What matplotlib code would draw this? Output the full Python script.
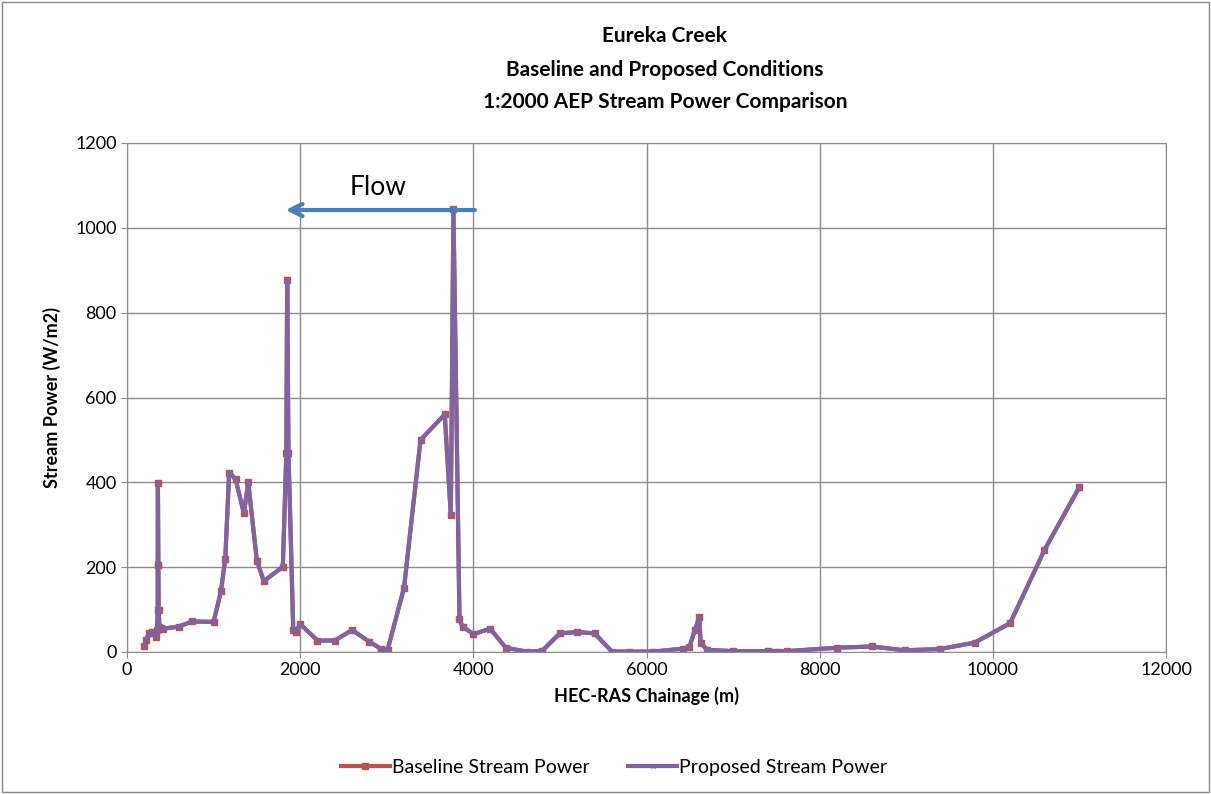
import numpy as np
import matplotlib.pyplot as plt

# chainage (m) and stream power (W/m2)
chainage = [200, 220, 255, 285, 300, 335, 345, 355, 355, 357, 362, 365, 375, 390, 420,
            595, 755, 1000, 1085, 1135, 1180, 1255, 1350, 1400, 1500, 1580, 1800, 1840,
            1850, 1865, 1920, 1950, 2000, 2200, 2400, 2600, 2800, 2930, 3010, 3200, 3390,
            3670, 3740, 3770, 3840, 3875, 4000, 4195, 4375, 4615, 4795, 5000, 5200, 5400,
            5600, 5800, 6080, 6425, 6495, 6560, 6610, 6625, 6700, 7000, 7400, 7485, 7530,
            7620, 8200, 8600, 8985, 9390, 9790, 10200, 10595, 11000]
baseline = [15, 28, 45, 48, 45, 36, 52, 100, 204, 398, 205, 100, 60, 56, 55,
            60, 72, 71, 143, 220, 423, 407, 327, 400, 215, 167, 201, 468,
            876, 468, 53, 47, 66, 27, 27, 52, 24, 8, 5, 152, 500,
            560, 322, 1045, 77, 60, 42, 55, 10, 1, 3, 44, 47, 44,
            1, 1, 1, 8, 11, 53, 82, 22, 5, 2, 2, 1, 1,
            2, 10, 13, 4, 7, 22, 68, 240, 389]
proposed = list(baseline)

x = np.array(chainage)

fig = plt.figure(figsize=(12.11, 7.94), dpi=100)
plt.rcParams['font.family'] = ['Lato', 'DejaVu Sans']

# chart area border
fig.patches.append(plt.Rectangle((0.002, 0.002), 0.996, 0.996, transform=fig.transFigure,
                                 fill=False, edgecolor='#888888', linewidth=1))

ax = fig.add_axes([127 / 1211, 1 - 652 / 794, (1166 - 127) / 1211, (652 - 143) / 794])

ax.plot(x, baseline, '-s', color='#C0504D', linewidth=3, markersize=4,
        label='Baseline Stream Power')
ax.plot(x, proposed, '-x', color='#8064A2', linewidth=3, markersize=3,
        markeredgewidth=1, label='Proposed Stream Power')

ax.set_xlim(0, 12000)
ax.set_ylim(0, 1200)
ax.set_xticks(np.arange(0, 12001, 2000))
ax.set_yticks(np.arange(0, 1201, 200))
ax.grid(True, color='#8c8c8c', linewidth=1)
ax.set_axisbelow(True)
for s in ax.spines.values():
    s.set_color('#8c8c8c')
ax.tick_params(labelsize=13, color='#8c8c8c', length=4)

ax.set_xlabel('HEC-RAS Chainage (m)', fontsize=13, fontweight='bold', labelpad=6)
ax.set_ylabel('Stream Power (W/m2)', fontsize=13, fontweight='bold', labelpad=10)

fig.text(0.549, 0.955, 'Eureka Creek', ha='center', va='center', fontsize=15, fontweight='bold')
fig.text(0.549, 0.912, 'Baseline and Proposed Conditions', ha='center', va='center',
         fontsize=15, fontweight='bold')
fig.text(0.549, 0.872, '1:2000 AEP Stream Power Comparison', ha='center', va='center',
         fontsize=15, fontweight='bold')

# flow direction arrow
ax.annotate('', xy=(1800, 1042), xytext=(4050, 1042),
            arrowprops=dict(arrowstyle='->', color='#4A7EBB', linewidth=3,
                            mutation_scale=22))
ax.text(2900, 1095, 'Flow', fontsize=19, ha='center', va='center')

fig.legend(loc='center', bbox_to_anchor=(0.507, 0.033), ncol=2, frameon=False,
           fontsize=14, handlelength=2.5, columnspacing=2, handletextpad=0.1)

plt.savefig('out.png', dpi=100)
